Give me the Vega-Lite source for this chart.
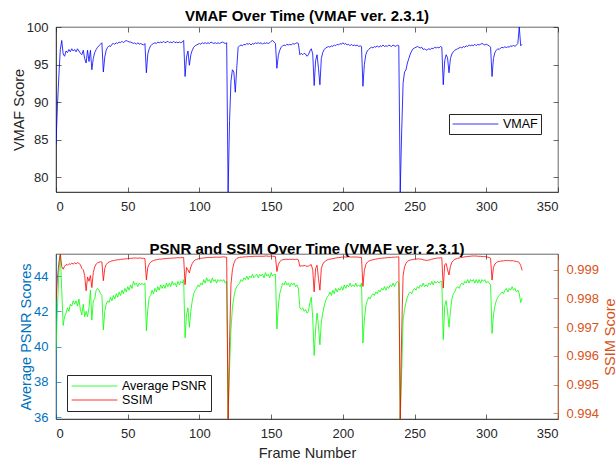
{
"$schema": "https://vega.github.io/schema/vega-lite/v6.json",
"padding": {"left": 10, "top": 8, "right": 0, "bottom": 0},
"spacing": 27,
"data": {"values": [
{"f":0,"v":84.3,"p":39.8,"s":0.99790},{"f":1,"v":89.5,"p":42.2,"s":0.99870},{"f":2,"v":93.5,"p":44.2,"s":0.99925},{"f":3,"v":97.0,"p":45.25,"s":0.99955},{"f":4,"v":98.2,"p":43.2,"s":0.99912},{"f":5,"v":96.4,"p":41.2,"s":0.99902},{"f":6,"v":96.1,"p":41.7,"s":0.99912},{"f":7,"v":96.8,"p":41.9,"s":0.99918},{"f":8,"v":96.6,"p":42.2,"s":0.99916},{"f":9,"v":97.0,"p":42.0,"s":0.99921},
{"f":10,"v":96.7,"p":42.4,"s":0.99919},{"f":11,"v":97.1,"p":42.3,"s":0.99923},{"f":12,"v":96.8,"p":42.6,"s":0.99920},{"f":13,"v":97.0,"p":42.4,"s":0.99924},{"f":14,"v":96.7,"p":42.6,"s":0.99921},{"f":15,"v":97.1,"p":42.3,"s":0.99925},{"f":16,"v":96.8,"p":42.7,"s":0.99922},{"f":17,"v":96.5,"p":42.1,"s":0.99918},{"f":18,"v":96.3,"p":41.8,"s":0.99905},{"f":19,"v":96.9,"p":42.4,"s":0.99900},
{"f":20,"v":95.8,"p":41.7,"s":0.99880},{"f":21,"v":95.2,"p":42.0,"s":0.99827},{"f":22,"v":96.9,"p":41.7,"s":0.99875},{"f":23,"v":95.4,"p":42.2,"s":0.99860},{"f":24,"v":96.9,"p":43.2,"s":0.99880},{"f":25,"v":94.3,"p":41.5,"s":0.99838},{"f":26,"v":95.8,"p":42.6,"s":0.99890},{"f":27,"v":96.6,"p":42.7,"s":0.99910},{"f":28,"v":97.0,"p":43.2,"s":0.99920},{"f":29,"v":97.3,"p":43.3,"s":0.99924},
{"f":30,"v":97.5,"p":43.2,"s":0.99926},{"f":31,"v":97.7,"p":43.0,"s":0.99928},{"f":32,"v":97.9,"p":42.9,"s":0.99927},{"f":33,"v":94.0,"p":40.95,"s":0.99862},{"f":34,"v":96.0,"p":42.0,"s":0.99905},{"f":35,"v":96.9,"p":42.4,"s":0.99918},{"f":36,"v":97.3,"p":42.6,"s":0.99924},{"f":37,"v":97.5,"p":42.5,"s":0.99927},{"f":38,"v":97.4,"p":42.8,"s":0.99929},{"f":39,"v":97.7,"p":42.6,"s":0.99931},
{"f":40,"v":97.8,"p":42.9,"s":0.99932},{"f":41,"v":97.7,"p":42.7,"s":0.99933},{"f":42,"v":97.9,"p":43.0,"s":0.99934},{"f":43,"v":97.8,"p":42.8,"s":0.99935},{"f":44,"v":98.0,"p":43.1,"s":0.99935},{"f":45,"v":97.9,"p":42.9,"s":0.99936},{"f":46,"v":98.1,"p":43.2,"s":0.99937},{"f":47,"v":97.9,"p":43.0,"s":0.99937},{"f":48,"v":98.1,"p":43.3,"s":0.99938},{"f":49,"v":98.2,"p":43.1,"s":0.99938},
{"f":50,"v":98.1,"p":43.4,"s":0.99939},{"f":51,"v":98.0,"p":43.2,"s":0.99939},{"f":52,"v":98.0,"p":43.5,"s":0.99940},{"f":53,"v":97.9,"p":43.3,"s":0.99940},{"f":54,"v":97.8,"p":43.7,"s":0.99941},{"f":55,"v":97.9,"p":43.5,"s":0.99941},{"f":56,"v":97.7,"p":43.6,"s":0.99941},{"f":57,"v":97.9,"p":43.4,"s":0.99940},{"f":58,"v":97.7,"p":43.6,"s":0.99941},{"f":59,"v":97.8,"p":43.5,"s":0.99941},
{"f":60,"v":97.7,"p":43.6,"s":0.99940},{"f":61,"v":97.6,"p":43.5,"s":0.99940},{"f":62,"v":97.8,"p":43.6,"s":0.99939},{"f":63,"v":93.9,"p":40.9,"s":0.99865},{"f":64,"v":96.4,"p":42.1,"s":0.99908},{"f":65,"v":97.1,"p":42.8,"s":0.99920},{"f":66,"v":97.5,"p":42.9,"s":0.99926},{"f":67,"v":97.7,"p":43.2,"s":0.99930},{"f":68,"v":97.8,"p":43.0,"s":0.99932},{"f":69,"v":97.9,"p":43.3,"s":0.99934},
{"f":70,"v":97.8,"p":43.1,"s":0.99935},{"f":71,"v":98.0,"p":43.4,"s":0.99936},{"f":72,"v":97.9,"p":43.2,"s":0.99937},{"f":73,"v":98.0,"p":43.5,"s":0.99937},{"f":74,"v":97.9,"p":43.3,"s":0.99938},{"f":75,"v":98.1,"p":43.5,"s":0.99938},{"f":76,"v":97.9,"p":43.3,"s":0.99939},{"f":77,"v":98.0,"p":43.6,"s":0.99939},{"f":78,"v":98.1,"p":43.4,"s":0.99940},{"f":79,"v":97.9,"p":43.6,"s":0.99940},
{"f":80,"v":98.0,"p":43.4,"s":0.99940},{"f":81,"v":97.9,"p":43.7,"s":0.99941},{"f":82,"v":98.1,"p":43.5,"s":0.99941},{"f":83,"v":97.9,"p":43.6,"s":0.99941},{"f":84,"v":98.0,"p":43.4,"s":0.99942},{"f":85,"v":97.9,"p":43.7,"s":0.99942},{"f":86,"v":98.0,"p":43.5,"s":0.99942},{"f":87,"v":97.9,"p":43.7,"s":0.99942},{"f":88,"v":98.0,"p":43.6,"s":0.99943},{"f":89,"v":98.2,"p":43.8,"s":0.99943},
{"f":90,"v":93.4,"p":40.5,"s":0.99848},{"f":91,"v":96.0,"p":41.8,"s":0.99908},{"f":92,"v":96.8,"p":42.2,"s":0.99900},{"f":93,"v":94.9,"p":41.1,"s":0.99889},{"f":94,"v":96.3,"p":42.0,"s":0.99910},{"f":95,"v":96.9,"p":42.6,"s":0.99922},{"f":96,"v":97.3,"p":43.0,"s":0.99930},{"f":97,"v":97.5,"p":43.2,"s":0.99934},{"f":98,"v":97.6,"p":43.3,"s":0.99936},{"f":99,"v":97.7,"p":43.5,"s":0.99938},
{"f":100,"v":97.8,"p":43.4,"s":0.99939},{"f":101,"v":97.7,"p":43.6,"s":0.99940},{"f":102,"v":97.9,"p":43.5,"s":0.99941},{"f":103,"v":97.8,"p":43.8,"s":0.99941},{"f":104,"v":97.9,"p":43.6,"s":0.99942},{"f":105,"v":97.8,"p":43.9,"s":0.99942},{"f":106,"v":97.9,"p":43.7,"s":0.99943},{"f":107,"v":97.8,"p":43.8,"s":0.99943},{"f":108,"v":98.0,"p":43.6,"s":0.99943},{"f":109,"v":97.9,"p":43.9,"s":0.99943},
{"f":110,"v":97.8,"p":43.7,"s":0.99944},{"f":111,"v":97.9,"p":43.8,"s":0.99944},{"f":112,"v":97.8,"p":43.6,"s":0.99944},{"f":113,"v":97.9,"p":43.8,"s":0.99944},{"f":114,"v":97.8,"p":43.7,"s":0.99944},{"f":115,"v":97.9,"p":43.8,"s":0.99944},{"f":116,"v":98.0,"p":43.7,"s":0.99945},{"f":117,"v":97.9,"p":43.8,"s":0.99945},{"f":118,"v":97.8,"p":43.6,"s":0.99944},{"f":119,"v":97.9,"p":43.7,"s":0.99944},
{"f":120,"v":78.0,"p":35.9,"s":0.99380},{"f":121,"v":87.5,"p":38.8,"s":0.99650},{"f":122,"v":92.8,"p":41.0,"s":0.99850},{"f":123,"v":94.3,"p":42.2,"s":0.99900},{"f":124,"v":94.0,"p":42.8,"s":0.99922},{"f":125,"v":91.3,"p":43.2,"s":0.99934},{"f":126,"v":94.5,"p":43.4,"s":0.99939},{"f":127,"v":97.3,"p":43.5,"s":0.99942},{"f":128,"v":97.5,"p":43.6,"s":0.99943},{"f":129,"v":97.6,"p":43.8,"s":0.99944},
{"f":130,"v":97.5,"p":43.7,"s":0.99944},{"f":131,"v":97.7,"p":43.9,"s":0.99945},{"f":132,"v":97.6,"p":43.8,"s":0.99945},{"f":133,"v":97.8,"p":44.0,"s":0.99945},{"f":134,"v":97.7,"p":43.8,"s":0.99946},{"f":135,"v":97.8,"p":44.0,"s":0.99946},{"f":136,"v":97.6,"p":43.9,"s":0.99946},{"f":137,"v":97.8,"p":44.1,"s":0.99946},{"f":138,"v":97.7,"p":43.9,"s":0.99947},{"f":139,"v":97.9,"p":44.0,"s":0.99947},
{"f":140,"v":97.8,"p":44.1,"s":0.99947},{"f":141,"v":97.9,"p":43.9,"s":0.99947},{"f":142,"v":97.8,"p":44.1,"s":0.99947},{"f":143,"v":97.9,"p":44.0,"s":0.99947},{"f":144,"v":97.7,"p":44.1,"s":0.99947},{"f":145,"v":97.9,"p":43.9,"s":0.99947},{"f":146,"v":97.8,"p":44.2,"s":0.99948},{"f":147,"v":97.9,"p":44.0,"s":0.99948},{"f":148,"v":97.8,"p":44.1,"s":0.99947},{"f":149,"v":97.9,"p":43.9,"s":0.99947},
{"f":150,"v":98.1,"p":44.2,"s":0.99948},{"f":151,"v":98.2,"p":44.0,"s":0.99947},{"f":152,"v":98.0,"p":44.1,"s":0.99947},{"f":153,"v":97.8,"p":44.1,"s":0.99946},{"f":154,"v":94.5,"p":41.0,"s":0.99894},{"f":155,"v":96.2,"p":42.3,"s":0.99918},{"f":156,"v":96.9,"p":43.0,"s":0.99928},{"f":157,"v":97.3,"p":43.3,"s":0.99933},{"f":158,"v":97.5,"p":43.6,"s":0.99935},{"f":159,"v":97.6,"p":43.5,"s":0.99936},
{"f":160,"v":97.5,"p":43.7,"s":0.99936},{"f":161,"v":97.7,"p":43.5,"s":0.99937},{"f":162,"v":97.6,"p":43.6,"s":0.99936},{"f":163,"v":97.7,"p":43.4,"s":0.99937},{"f":164,"v":97.6,"p":43.6,"s":0.99936},{"f":165,"v":97.8,"p":43.5,"s":0.99937},{"f":166,"v":97.7,"p":43.6,"s":0.99936},{"f":167,"v":97.8,"p":43.4,"s":0.99936},{"f":168,"v":97.9,"p":43.5,"s":0.99937},{"f":169,"v":97.8,"p":43.3,"s":0.99935},
{"f":170,"v":96.3,"p":42.2,"s":0.99912},{"f":171,"v":96.5,"p":42.1,"s":0.99914},{"f":172,"v":96.3,"p":42.2,"s":0.99913},{"f":173,"v":96.5,"p":42.0,"s":0.99915},{"f":174,"v":96.4,"p":42.1,"s":0.99914},{"f":175,"v":96.1,"p":41.9,"s":0.99912},{"f":176,"v":96.3,"p":42.0,"s":0.99913},{"f":177,"v":96.8,"p":42.5,"s":0.99916},{"f":178,"v":97.1,"p":42.8,"s":0.99918},{"f":179,"v":96.4,"p":41.6,"s":0.99900},
{"f":180,"v":92.2,"p":39.5,"s":0.99823},{"f":181,"v":95.5,"p":41.0,"s":0.99905},{"f":182,"v":96.3,"p":41.9,"s":0.99916},{"f":183,"v":94.5,"p":41.2,"s":0.99870},{"f":184,"v":92.3,"p":40.1,"s":0.99829},{"f":185,"v":95.8,"p":41.4,"s":0.99905},{"f":186,"v":96.6,"p":41.9,"s":0.99920},{"f":187,"v":97.0,"p":42.3,"s":0.99927},{"f":188,"v":97.2,"p":42.6,"s":0.99931},{"f":189,"v":97.3,"p":42.8,"s":0.99934},
{"f":190,"v":97.4,"p":42.9,"s":0.99936},{"f":191,"v":97.3,"p":43.1,"s":0.99937},{"f":192,"v":97.5,"p":42.9,"s":0.99938},{"f":193,"v":97.4,"p":43.2,"s":0.99939},{"f":194,"v":97.6,"p":43.0,"s":0.99940},{"f":195,"v":97.5,"p":43.3,"s":0.99941},{"f":196,"v":97.7,"p":43.1,"s":0.99942},{"f":197,"v":97.6,"p":43.3,"s":0.99942},{"f":198,"v":97.8,"p":43.2,"s":0.99943},{"f":199,"v":97.7,"p":43.4,"s":0.99944},
{"f":200,"v":97.9,"p":43.2,"s":0.99944},{"f":201,"v":97.7,"p":43.5,"s":0.99945},{"f":202,"v":97.8,"p":43.3,"s":0.99944},{"f":203,"v":97.6,"p":43.5,"s":0.99945},{"f":204,"v":97.7,"p":43.4,"s":0.99945},{"f":205,"v":97.5,"p":43.6,"s":0.99945},{"f":206,"v":97.7,"p":43.4,"s":0.99944},{"f":207,"v":97.5,"p":43.5,"s":0.99945},{"f":208,"v":97.6,"p":43.4,"s":0.99944},{"f":209,"v":97.5,"p":43.6,"s":0.99945},
{"f":210,"v":97.6,"p":43.4,"s":0.99944},{"f":211,"v":97.4,"p":43.5,"s":0.99944},{"f":212,"v":97.5,"p":43.4,"s":0.99943},{"f":213,"v":97.4,"p":43.6,"s":0.99943},{"f":214,"v":92.1,"p":40.2,"s":0.99842},{"f":215,"v":95.0,"p":41.5,"s":0.99898},{"f":216,"v":96.3,"p":42.3,"s":0.99918},{"f":217,"v":96.8,"p":42.6,"s":0.99926},{"f":218,"v":97.0,"p":42.8,"s":0.99930},{"f":219,"v":97.2,"p":42.7,"s":0.99932},
{"f":220,"v":97.3,"p":42.9,"s":0.99934},{"f":221,"v":97.2,"p":43.0,"s":0.99935},{"f":222,"v":97.4,"p":42.9,"s":0.99936},{"f":223,"v":97.3,"p":43.1,"s":0.99937},{"f":224,"v":97.5,"p":43.0,"s":0.99938},{"f":225,"v":97.3,"p":43.2,"s":0.99939},{"f":226,"v":97.5,"p":43.1,"s":0.99940},{"f":227,"v":97.4,"p":43.3,"s":0.99940},{"f":228,"v":97.6,"p":43.2,"s":0.99941},{"f":229,"v":97.4,"p":43.4,"s":0.99941},
{"f":230,"v":97.5,"p":43.2,"s":0.99942},{"f":231,"v":97.4,"p":43.4,"s":0.99942},{"f":232,"v":97.6,"p":43.3,"s":0.99943},{"f":233,"v":97.5,"p":43.5,"s":0.99943},{"f":234,"v":97.4,"p":43.4,"s":0.99943},{"f":235,"v":97.6,"p":43.6,"s":0.99944},{"f":236,"v":97.5,"p":43.4,"s":0.99944},{"f":237,"v":97.4,"p":43.6,"s":0.99944},{"f":238,"v":97.6,"p":43.7,"s":0.99945},{"f":239,"v":97.5,"p":43.6,"s":0.99945},
{"f":240,"v":78.0,"p":35.9,"s":0.99380},{"f":241,"v":86.0,"p":38.5,"s":0.99680},{"f":242,"v":92.5,"p":41.5,"s":0.99880},{"f":243,"v":94.0,"p":42.1,"s":0.99910},{"f":244,"v":94.3,"p":42.5,"s":0.99922},{"f":245,"v":95.2,"p":42.8,"s":0.99929},{"f":246,"v":95.8,"p":43.0,"s":0.99932},{"f":247,"v":96.4,"p":43.1,"s":0.99934},{"f":248,"v":96.8,"p":43.0,"s":0.99935},{"f":249,"v":97.1,"p":43.2,"s":0.99936},
{"f":250,"v":97.2,"p":43.3,"s":0.99937},{"f":251,"v":97.3,"p":43.2,"s":0.99937},{"f":252,"v":97.4,"p":43.4,"s":0.99938},{"f":253,"v":97.3,"p":43.3,"s":0.99938},{"f":254,"v":97.2,"p":43.5,"s":0.99937},{"f":255,"v":97.3,"p":43.4,"s":0.99937},{"f":256,"v":97.0,"p":43.6,"s":0.99935},{"f":257,"v":97.1,"p":43.4,"s":0.99934},{"f":258,"v":96.9,"p":43.5,"s":0.99933},{"f":259,"v":97.0,"p":43.4,"s":0.99933},
{"f":260,"v":97.1,"p":43.6,"s":0.99934},{"f":261,"v":97.0,"p":43.5,"s":0.99935},{"f":262,"v":97.2,"p":43.7,"s":0.99937},{"f":263,"v":97.1,"p":43.5,"s":0.99938},{"f":264,"v":97.3,"p":43.7,"s":0.99939},{"f":265,"v":97.2,"p":43.6,"s":0.99940},{"f":266,"v":97.3,"p":43.7,"s":0.99941},{"f":267,"v":97.2,"p":43.6,"s":0.99941},{"f":268,"v":97.4,"p":43.7,"s":0.99942},{"f":269,"v":97.3,"p":43.7,"s":0.99942},
{"f":270,"v":92.3,"p":40.4,"s":0.99836},{"f":271,"v":95.5,"p":42.3,"s":0.99918},{"f":272,"v":96.3,"p":42.6,"s":0.99922},{"f":273,"v":95.9,"p":42.0,"s":0.99900},{"f":274,"v":93.9,"p":41.1,"s":0.99882},{"f":275,"v":95.8,"p":42.0,"s":0.99912},{"f":276,"v":96.4,"p":42.7,"s":0.99926},{"f":277,"v":96.7,"p":43.0,"s":0.99932},{"f":278,"v":96.9,"p":43.1,"s":0.99936},{"f":279,"v":97.0,"p":43.3,"s":0.99938},
{"f":280,"v":97.1,"p":43.4,"s":0.99940},{"f":281,"v":97.2,"p":43.3,"s":0.99941},{"f":282,"v":97.3,"p":43.5,"s":0.99942},{"f":283,"v":97.2,"p":43.6,"s":0.99943},{"f":284,"v":97.4,"p":43.5,"s":0.99944},{"f":285,"v":97.3,"p":43.7,"s":0.99945},{"f":286,"v":97.5,"p":43.6,"s":0.99946},{"f":287,"v":97.4,"p":43.8,"s":0.99946},{"f":288,"v":97.6,"p":43.6,"s":0.99947},{"f":289,"v":97.5,"p":43.8,"s":0.99947},
{"f":290,"v":97.6,"p":43.7,"s":0.99948},{"f":291,"v":97.5,"p":43.8,"s":0.99948},{"f":292,"v":97.7,"p":43.6,"s":0.99948},{"f":293,"v":97.5,"p":43.8,"s":0.99948},{"f":294,"v":97.7,"p":43.6,"s":0.99947},{"f":295,"v":97.6,"p":43.8,"s":0.99947},{"f":296,"v":97.7,"p":43.6,"s":0.99947},{"f":297,"v":97.8,"p":43.8,"s":0.99946},{"f":298,"v":97.7,"p":43.7,"s":0.99946},{"f":299,"v":97.6,"p":43.8,"s":0.99946},
{"f":300,"v":97.7,"p":43.6,"s":0.99945},{"f":301,"v":97.6,"p":43.7,"s":0.99944},{"f":302,"v":97.5,"p":43.6,"s":0.99943},{"f":303,"v":97.3,"p":43.5,"s":0.99940},{"f":304,"v":93.4,"p":40.75,"s":0.99864},{"f":305,"v":95.8,"p":41.8,"s":0.99908},{"f":306,"v":96.6,"p":42.3,"s":0.99920},{"f":307,"v":96.9,"p":42.6,"s":0.99925},{"f":308,"v":97.1,"p":42.8,"s":0.99928},{"f":309,"v":97.0,"p":42.9,"s":0.99929},
{"f":310,"v":97.2,"p":43.0,"s":0.99930},{"f":311,"v":97.3,"p":43.1,"s":0.99931},{"f":312,"v":97.2,"p":43.0,"s":0.99931},{"f":313,"v":97.4,"p":43.2,"s":0.99932},{"f":314,"v":97.2,"p":43.3,"s":0.99932},{"f":315,"v":97.4,"p":43.1,"s":0.99932},{"f":316,"v":97.3,"p":43.3,"s":0.99932},{"f":317,"v":97.5,"p":43.2,"s":0.99931},{"f":318,"v":97.4,"p":43.4,"s":0.99932},{"f":319,"v":97.6,"p":43.2,"s":0.99931},
{"f":320,"v":97.4,"p":43.3,"s":0.99930},{"f":321,"v":97.6,"p":43.1,"s":0.99929},{"f":322,"v":97.8,"p":43.2,"s":0.99928},{"f":323,"v":100.0,"p":43.0,"s":0.99925},{"f":324,"v":97.5,"p":42.5,"s":0.99915},{"f":325,"v":97.7,"p":42.75,"s":0.99898}
]},
"vconcat": [
{
"width": 502, "height": 165,
"title": "VMAF Over Time (VMAF ver. 2.3.1)",
"layer": [
{"mark": {"type": "line", "strokeWidth": 0.8, "clip": true},
 "encoding": {
  "x": {"field": "f", "type": "quantitative", "scale": {"domain": [0, 350], "nice": false}, "axis": {"values": [0,50,100,150,200,250,300,350], "title": null}},
  "y": {"field": "v", "type": "quantitative", "scale": {"domain": [78, 100], "nice": false, "zero": false}, "axis": {"values": [80,85,90,95,100], "title": "VMAF Score"}},
  "color": {"datum": "VMAF", "type": "nominal", "scale": {"domain": ["VMAF"], "range": ["#0000ff"]}, "legend": {"title": null, "orient": "none", "legendX": 393, "legendY": 87, "clipHeight": 14, "padding": 3}}
 }},
{"mark": {"type": "line", "opacity": 0},
 "encoding": {
  "x": {"field": "f", "type": "quantitative", "axis": {"orient": "top", "values": [0,50,100,150,200,250,300,350], "labels": false, "title": null, "domain": false}},
  "y": {"field": "v", "type": "quantitative", "axis": {"orient": "right", "values": [80,85,90,95,100], "labels": false, "title": null, "domain": false}}
 }}
],
"resolve": {"axis": {"x": "independent", "y": "independent"}}
},
{
"width": 502, "height": 165,
"title": "PSNR and SSIM Over Time (VMAF ver. 2.3.1)",
"layer": [
{"mark": {"type": "line", "strokeWidth": 0.8, "clip": true},
 "encoding": {
  "x": {"field": "f", "type": "quantitative", "scale": {"domain": [0, 350], "nice": false}, "axis": {"values": [0,50,100,150,200,250,300,350], "title": "Frame Number", "titlePadding": 6}},
  "y": {"field": "p", "type": "quantitative", "scale": {"domain": [35.9, 45.25], "nice": false, "zero": false}, "axis": {"values": [36,38,40,42,44], "title": "Average PSNR Scores", "labelColor": "#0072BD", "titleColor": "#0072BD", "domainColor": "#0072BD", "tickColor": "#0072BD"}},
  "color": {"datum": "Average PSNR", "type": "nominal", "scale": {"domain": ["Average PSNR", "SSIM"], "range": ["#00ff00", "#ff0000"]}, "legend": {"title": null, "orient": "none", "legendX": 11, "legendY": 121, "clipHeight": 14, "padding": 4}}
 }},
{"mark": {"type": "line", "strokeWidth": 0.8, "clip": true},
 "encoding": {
  "x": {"field": "f", "type": "quantitative", "axis": {"orient": "top", "values": [0,50,100,150,200,250,300,350], "labels": false, "title": null, "domain": false}},
  "y": {"field": "s", "type": "quantitative", "scale": {"domain": [0.9938, 0.99955], "nice": false, "zero": false}, "axis": {"orient": "right", "values": [0.994,0.995,0.996,0.997,0.998,0.999], "format": ".3f", "title": "SSIM Score", "titleAngle": 270, "titleBaseline": "top", "titlePadding": 4.5, "labelColor": "#D95319", "titleColor": "#D95319", "domainColor": "#D95319", "tickColor": "#D95319"}},
  "color": {"datum": "SSIM", "type": "nominal"}
 }}
],
"resolve": {"scale": {"y": "independent"}, "axis": {"x": "independent", "y": "independent"}}
}
],
"resolve": {"scale": {"color": "independent"}, "legend": {"color": "independent"}},
"config": {
 "font": "Liberation Sans",
 "view": {"stroke": "#262626", "strokeWidth": 0.7},
 "axis": {"grid": false, "domainColor": "#262626", "domainWidth": 0.7, "tickColor": "#262626", "tickWidth": 0.7, "tickSize": -5, "labelColor": "#262626", "labelFontSize": 13, "labelFont": "Liberation Sans", "titleFont": "Liberation Sans", "titleFontSize": 14.5, "titleFontWeight": "normal", "titleColor": "#262626"},
 "axisX": {"labelPadding": 13},
 "axisY": {"labelPadding": 13, "titlePadding": 0},
 "legend": {"symbolType": "stroke", "symbolSize": 2100, "symbolStrokeWidth": 0.8, "labelFontSize": 12.5, "labelColor": "#000000", "labelFont": "Liberation Sans", "strokeColor": "#262626", "fillColor": "#ffffff", "labelOffset": 4, "rowPadding": 0},
 "title": {"font": "Liberation Sans", "fontSize": 15, "fontWeight": "bold", "color": "#000000", "offset": -3}
}
}
